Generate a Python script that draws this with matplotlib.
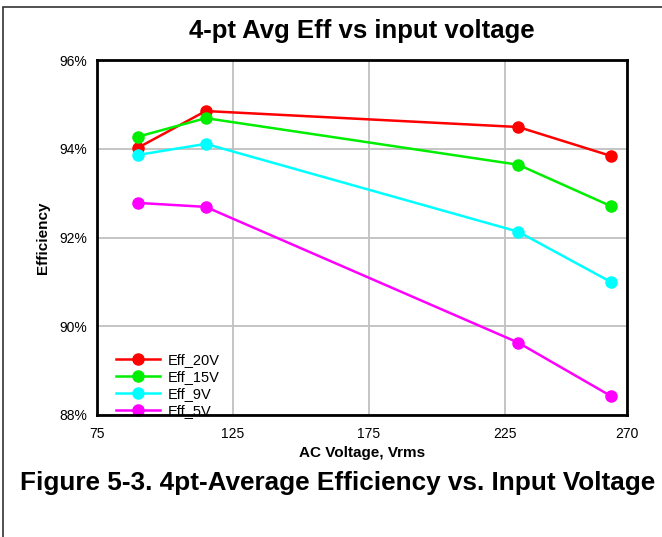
import matplotlib
matplotlib.use("Agg")
import matplotlib.pyplot as plt
from matplotlib.patches import Rectangle
from matplotlib.ticker import FuncFormatter

plt.rcParams['font.family'] = ['Liberation Sans', 'DejaVu Sans']

# tensione di ingresso (Vrms) e efficienza media 4 punti (%)
vin = [90, 115, 230, 264]
eff_20v = [94.02, 94.85, 94.49, 93.84]
eff_15v = [94.27, 94.69, 93.64, 92.71]
eff_9v = [93.86, 94.11, 92.13, 91.00]
eff_5v = [92.78, 92.69, 89.63, 88.43]

serie = [('Eff_20V', eff_20v, '#ff0000'),
         ('Eff_15V', eff_15v, '#00ee00'),
         ('Eff_9V', eff_9v, '#00ffff'),
         ('Eff_5V', eff_5v, '#ff00ff')]

xticks = [75, 125, 175, 225, 270]
yticks = [88, 90, 92, 94, 96]

fig = plt.figure(figsize=(6.62, 5.37), dpi=100)
ax = fig.add_axes([97/662, 1-415/537, 530/662, 355/537])

for nome, y, col in serie:
	ax.plot(vin, y, color=col, lw=1.8, marker='o', ms=8, label=nome)

ax.set_xlim(75, 270)
ax.set_ylim(88, 96)
ax.set_xticks(xticks)
ax.set_yticks(yticks)
ax.yaxis.set_major_formatter(FuncFormatter(lambda v, p: '%d%%' % v))
ax.tick_params(length=0, labelsize=10, pad=7)
ax.tick_params(axis='x', pad=9)
ax.grid(color='#c0c0c0', lw=1.3)
for s in ax.spines.values():
	s.set_linewidth(2)
	s.set_zorder(5)

ax.set_xlabel('AC Voltage, Vrms', fontsize=11, fontweight='bold', labelpad=3)
ax.set_ylabel('Efficiency', fontsize=11, fontweight='bold', labelpad=7)
fig.text(362/662, 1-31/537, '4-pt Avg Eff vs input voltage', ha='center', va='center',
         fontsize=18.5, fontweight='bold')
fig.text(338/662, 1-483/537, 'Figure 5-3. 4pt-Average Efficiency vs. Input Voltage',
         ha='center', va='center', fontsize=18.8, fontweight='bold')

leg = ax.legend(loc='lower left', bbox_to_anchor=(0.012, -0.045), frameon=False,
                fontsize=10.5, handlelength=3, labelspacing=0.2, handletextpad=0.5)
leg.set_zorder(3)

# cornice esterna
fig.add_artist(Rectangle((3/662, -0.1), 1.2, 1 - 7/537 + 0.1, transform=fig.transFigure,
                         fill=False, ec='#333333', lw=1.2))

fig.savefig('out.png', dpi=100)
